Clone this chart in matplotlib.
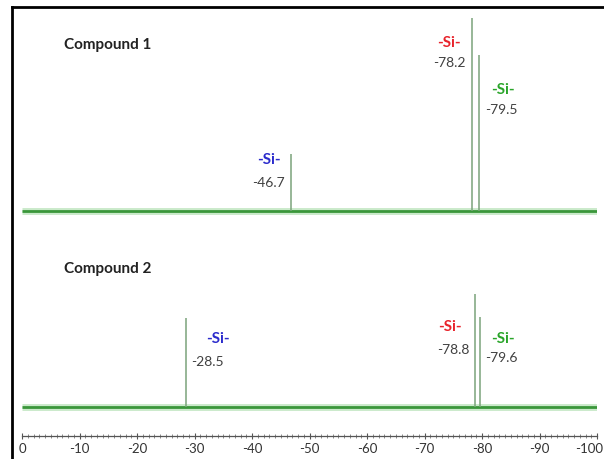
"""
29Si NMR 谱图：Compound 1 与 Compound 2 的化学位移对比
"""

import matplotlib.pyplot as plt
import matplotlib.transforms as mtransforms
from matplotlib.lines import Line2D
from matplotlib.ticker import MultipleLocator

# ==========================================
# 数据：峰位置 (ppm) 与峰高 (任意单位)
# ==========================================
ppm_ticks = [0, -10, -20, -30, -40, -50, -60, -70, -80, -90, -100]

c1_peaks = [-46.7, -78.2, -79.5]
c1_heights = [57, 193, 156]
c1_colors = ['#2b2bcc', '#e8232b', '#2aa52a']

c2_peaks = [-28.5, -78.8, -79.6]
c2_heights = [89, 113, 90]
c2_colors = ['#2b2bcc', '#e8232b', '#2aa52a']

# 两条谱线的基线偏移（与峰高同单位）
c1_base = 225
c2_base = 29

W, H = 604, 460
fig = plt.figure(figsize=(W / 100, H / 100), dpi=100)
plt.rcParams['font.family'] = ['Lato', 'DejaVu Sans']

ax_l, ax_r, ax_b, ax_t = 22, 597, 23, 452
ax = fig.add_axes([ax_l / W, ax_b / H, (ax_r - ax_l) / W, (ax_t - ax_b) / H])
ax.set_xlim(0, -100)
ax.set_ylim(0, ax_t - ax_b)

# 外框（只露出左边和上边）
fig.add_artist(Line2D([12 / W, 12 / W], [0, 1 - 8 / H], color='black', lw=2))
fig.add_artist(Line2D([12 / W, 1], [1 - 8 / H, 1 - 8 / H], color='black', lw=2))


def draw_spectrum(base, peaks, heights):
    # 基线（带浅色晕）
    ax.plot([0, -100], [base, base], color='#a8dca8', lw=5, alpha=0.6,
            solid_capstyle='butt')
    ax.plot([0, -100], [base, base], color='#3a963a', lw=2.0,
            solid_capstyle='butt')
    ax.vlines(peaks, base, [base + h for h in heights], color='#7aa37a', lw=1.1)


draw_spectrum(c1_base, c1_peaks, c1_heights)
draw_spectrum(c2_base, c2_peaks, c2_heights)

# 标签
ax.text(-7.3, c1_base + 167, 'Compound 1', fontsize=11, fontweight='bold',
        color='#222222', ha='left', va='center')
ax.text(-7.3, c2_base + 139, 'Compound 2', fontsize=11, fontweight='bold',
        color='#222222', ha='left', va='center')

lab_kw = dict(fontsize=11, fontweight='bold', va='center')
num_kw = dict(fontsize=10, color='#404040', va='center')

# Compound 1
ax.text(-43.0, c1_base + 52, '-Si-', color=c1_colors[0], ha='center', **lab_kw)
ax.text(-45.7, c1_base + 29, '-46.7', ha='right', **num_kw)
ax.text(-74.3, c1_base + 169, '-Si-', color=c1_colors[1], ha='center', **lab_kw)
ax.text(-77.2, c1_base + 149, '-78.2', ha='right', **num_kw)
ax.text(-83.7, c1_base + 122, '-Si-', color=c1_colors[2], ha='center', **lab_kw)
ax.text(-80.5, c1_base + 102, '-79.5', ha='left', **num_kw)

# Compound 2
ax.text(-34.0, c2_base + 69, '-Si-', color=c2_colors[0], ha='center', **lab_kw)
ax.text(-29.5, c2_base + 46, '-28.5', ha='left', **num_kw)
ax.text(-74.5, c2_base + 81, '-Si-', color=c2_colors[1], ha='center', **lab_kw)
ax.text(-77.8, c2_base + 58, '-78.8', ha='right', **num_kw)
ax.text(-83.7, c2_base + 69, '-Si-', color=c2_colors[2], ha='center', **lab_kw)
ax.text(-80.6, c2_base + 50, '-79.6', ha='left', **num_kw)

# 坐标轴：只保留底部刻度线
for s in ['left', 'right', 'top']:
    ax.spines[s].set_visible(False)
ax.spines['bottom'].set_color('#555555')
ax.spines['bottom'].set_linewidth(0.9)
ax.set_yticks([])
ax.set_xticks(ppm_ticks)
ax.set_xticklabels([str(t) for t in ppm_ticks], fontsize=9.5, color='#333333')
ax.xaxis.set_minor_locator(MultipleLocator(1))
ax.tick_params(axis='x', which='major', direction='inout', length=4,
               width=0.8, color='#555555', pad=2)
ax.tick_params(axis='x', which='minor', direction='inout', length=2.5,
               width=0.6, color='#777777')
ax.patch.set_alpha(0)

# 最右侧的 -100 稍向左移，避免被裁掉
last = ax.get_xticklabels()[-1]
last.set_transform(last.get_transform() +
                   mtransforms.ScaledTranslation(-6 / 72, 0, fig.dpi_scale_trans))

fig.savefig('out.png', dpi=100)
